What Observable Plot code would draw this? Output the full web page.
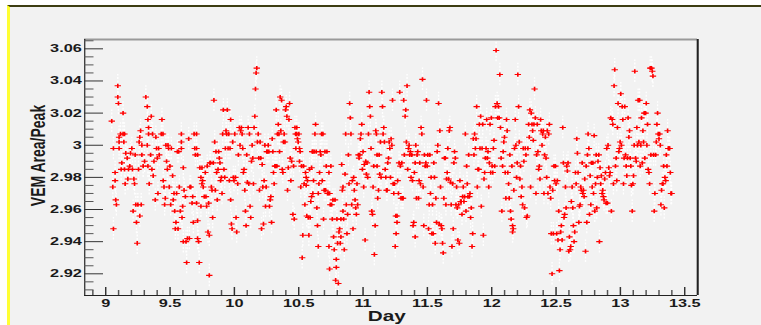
<!DOCTYPE html>
<html>
<head>
<meta charset="utf-8">
<script src="https://cdn.jsdelivr.net/npm/d3@7"></script>
<script src="https://cdn.jsdelivr.net/npm/@observablehq/plot@0.6"></script>
<style>
  html, body { margin: 0; padding: 0; background: #ffffff; width: 761px; height: 325px; overflow: hidden; }
  #pad { position: absolute; left: 7px; top: 5px; width: 754px; height: 320px; background: #f2f2f2;
         border-top: 2px solid #3d3d12; border-left: 3px solid #ffff33; box-sizing: border-box; }
  #chart { position: absolute; left: 0; top: 0; transform-origin: 0 0; }
</style>
</head>
<body>
<div id="pad"></div>
<div id="chart"></div>
<script>
// ---- data: [day, VEM Area/Peak] ----
const seg1 = [[9.047,3.015],[9.055,2.974],[9.060,2.998],[9.060,2.948],[9.073,2.983],[9.073,2.978],[9.078,2.966],[9.083,2.963],[9.094,3.037],[9.094,3.030],[9.099,3.026],[9.104,3.002],[9.104,3.005],[9.104,2.998],[9.115,3.007],[9.120,2.985],[9.125,2.989],[9.135,3.020],[9.135,3.007],[9.141,3.002],[9.146,3.007],[9.146,2.985],[9.151,2.976],[9.156,2.995],[9.167,2.992],[9.172,2.979],[9.177,2.985],[9.187,2.987],[9.193,2.995],[9.203,2.998],[9.208,2.985],[9.213,2.959],[9.219,2.979],[9.224,2.976],[9.229,2.994],[9.234,2.963],[9.239,2.952],[9.245,2.939],[9.250,2.963],[9.255,2.985],[9.260,3.002],[9.265,2.956],[9.265,3.005],[9.271,3.009],[9.276,2.963],[9.281,3.000],[9.281,2.994],[9.291,2.987],[9.302,2.990],[9.312,3.030],[9.323,3.024],[9.328,3.016],[9.333,3.011],[9.323,3.000],[9.328,2.987],[9.333,3.007],[9.338,2.976],[9.349,2.994],[9.354,3.018],[9.359,2.985],[9.364,3.007],[9.369,2.981],[9.375,2.990],[9.385,2.966],[9.390,3.005],[9.395,2.998],[9.401,2.992],[9.406,2.970],[9.411,2.998],[9.416,2.994],[9.432,3.007],[9.437,3.016],[9.445,3.007],[9.447,2.978],[9.453,2.974],[9.458,2.963],[9.463,2.967],[9.468,3.000],[9.473,2.990],[9.479,2.985],[9.484,3.000],[9.489,2.998],[9.494,2.974],[9.499,2.987],[9.505,2.963],[9.510,2.998],[9.520,2.981],[9.525,2.966],[9.531,2.970],[9.536,2.959],[9.541,2.948],[9.546,2.952],[9.551,2.970],[9.557,2.996],[9.562,2.948],[9.567,2.996],[9.572,2.974],[9.580,2.959],[9.588,2.998],[9.588,3.002],[9.588,3.007],[9.593,2.955],[9.598,2.962],[9.603,2.986],[9.603,2.940],[9.609,2.972],[9.619,2.968],[9.624,2.940],[9.629,2.927],[9.635,2.942],[9.645,3.004],[9.650,2.942],[9.655,2.974],[9.661,2.974],[9.671,2.964],[9.676,2.968],[9.681,2.952],[9.687,3.007],[9.692,2.998],[9.697,2.994]];
const seg2 = [[9.706,3.007],[9.706,2.998],[9.714,2.994],[9.706,2.964],[9.714,2.953],[9.714,2.942],[9.722,2.940],[9.727,2.927],[9.732,2.986],[9.740,2.962],[9.740,2.980],[9.748,2.986],[9.748,2.976],[9.753,2.978],[9.758,2.974],[9.766,2.968],[9.774,2.983],[9.779,2.968],[9.784,2.962],[9.789,2.987],[9.795,2.946],[9.800,2.964],[9.805,2.944],[9.805,2.919],[9.810,2.989],[9.815,2.989],[9.821,2.974],[9.826,2.972],[9.831,2.955],[9.836,2.989],[9.841,3.028],[9.847,3.002],[9.852,2.972],[9.857,2.996],[9.862,2.983],[9.867,2.966],[9.873,2.985],[9.878,2.996],[9.883,2.992],[9.888,2.989],[9.893,2.978],[9.899,2.980],[9.904,2.970],[9.909,3.007],[9.914,3.022],[9.919,2.985],[9.925,2.980],[9.930,2.998],[9.935,3.009],[9.940,3.007],[9.945,3.022],[9.951,2.998],[9.956,3.007],[9.961,2.978],[9.966,2.998],[9.971,3.016],[9.971,2.966],[9.977,2.951],[9.982,2.948],[9.987,3.002],[9.992,2.980],[9.997,2.978],[10.003,3.007],[10.008,2.980],[10.013,2.955],[10.018,2.946],[10.026,2.976],[10.031,2.994],[10.039,3.011],[10.044,3.000],[10.049,3.009],[10.055,3.011],[10.060,3.007],[10.065,2.998],[10.070,2.983],[10.075,2.985],[10.081,2.972],[10.086,2.959],[10.091,2.950],[10.096,2.994],[10.101,2.977],[10.107,3.011],[10.112,2.976],[10.117,3.007],[10.122,2.962],[10.127,2.955],[10.133,2.990],[10.138,3.000],[10.143,2.992],[10.148,2.976],[10.153,3.011],[10.159,3.018],[10.164,3.035],[10.169,3.045],[10.174,3.048],[10.179,3.002],[10.185,3.007],[10.190,2.992],[10.195,2.972],[10.200,3.002],[10.205,2.992],[10.211,2.948],[10.216,2.988],[10.221,2.974],[10.226,2.951],[10.231,2.978],[10.237,3.000],[10.242,2.962],[10.247,2.974],[10.252,2.996],[10.257,2.996],[10.263,3.000],[10.268,2.996],[10.273,2.962],[10.278,2.966],[10.283,2.968],[10.289,2.952],[10.294,3.004],[10.299,2.996],[10.304,2.983],[10.309,2.976],[10.315,2.987],[10.320,2.987],[10.325,3.022],[10.330,2.987],[10.335,3.007],[10.341,3.013],[10.346,3.007],[10.351,2.996],[10.356,3.030],[10.361,3.009],[10.367,3.028],[10.372,2.985],[10.377,2.983],[10.382,3.002],[10.387,3.007],[10.393,3.002],[10.398,3.022],[10.403,3.024],[10.408,3.018],[10.413,2.972],[10.419,2.986],[10.424,3.016],[10.429,3.026],[10.434,2.992],[10.439,2.978],[10.445,2.990],[10.455,2.957],[10.460,2.987],[10.465,2.954],[10.471,3.011],[10.476,3.007],[10.478,2.998]];
const seg3 = [[10.485,3.011],[10.485,3.007],[10.490,3.004],[10.496,3.002],[10.501,3.007],[10.506,2.998],[10.511,2.996],[10.506,2.990],[10.516,2.974],[10.522,2.987],[10.527,2.930],[10.532,2.944],[10.537,2.987],[10.542,2.976],[10.548,2.963],[10.553,2.983],[10.558,2.980],[10.558,2.975],[10.563,2.956],[10.568,2.978],[10.574,2.955],[10.579,2.944],[10.584,2.985],[10.589,2.955],[10.594,2.965],[10.600,2.968],[10.600,2.986],[10.605,2.996],[10.610,2.970],[10.610,2.996],[10.615,2.978],[10.620,2.996],[10.626,3.007],[10.631,3.013],[10.636,2.996],[10.641,2.961],[10.646,2.950],[10.652,2.937],[10.652,2.970],[10.657,2.976],[10.662,2.983],[10.667,2.996],[10.672,2.994],[10.678,3.007],[10.683,2.978],[10.688,3.007],[10.693,2.954],[10.698,2.972],[10.704,2.996],[10.709,2.972],[10.714,2.987],[10.719,2.996],[10.724,2.970],[10.730,2.970],[10.735,2.983],[10.735,2.937],[10.740,2.970],[10.740,2.923],[10.745,2.963],[10.750,2.987],[10.756,2.963],[10.761,2.954],[10.766,2.966],[10.771,2.943],[10.776,2.935],[10.782,2.966],[10.787,2.916],[10.792,2.924],[10.792,2.929],[10.797,2.954],[10.802,2.939],[10.808,2.914],[10.813,2.946],[10.818,2.948],[10.823,2.939],[10.828,2.943],[10.828,2.954],[10.834,2.988],[10.839,2.972],[10.844,2.974],[10.844,2.959],[10.849,2.954],[10.854,2.935],[10.860,2.982],[10.865,3.007],[10.870,2.963],[10.875,2.945],[10.880,2.957],[10.886,2.994],[10.891,2.976],[10.896,3.026],[10.901,3.017],[10.906,3.007],[10.912,2.963],[10.917,2.978],[10.922,2.948],[10.927,2.980],[10.932,2.972],[10.938,2.966],[10.943,2.961],[10.948,2.957],[10.953,2.976],[10.958,2.963],[10.964,2.994],[10.969,2.992],[10.974,2.994],[10.979,3.004],[10.984,3.007],[10.990,3.013],[10.995,2.985],[11.000,2.996],[11.005,2.974],[11.010,2.988],[11.016,2.941],[11.021,2.990],[11.026,2.982],[11.031,2.989],[11.036,2.980],[11.042,3.007],[11.047,3.033],[11.052,3.024],[11.057,3.018],[11.062,2.998],[11.068,2.959],[11.073,2.957],[11.078,2.974],[11.083,2.987],[11.088,2.932],[11.094,2.950],[11.099,3.009],[11.104,3.007],[11.109,2.994],[11.109,2.987],[11.114,2.967],[11.120,2.972],[11.125,2.994],[11.130,2.982],[11.135,3.002],[11.140,2.980],[11.146,3.033],[11.151,3.024],[11.156,3.007],[11.161,3.011],[11.166,3.002],[11.172,2.985],[11.177,2.980],[11.182,2.972],[11.187,2.972],[11.192,2.989],[11.198,2.992],[11.203,3.002],[11.208,2.998],[11.213,2.980],[11.218,3.004],[11.224,3.000],[11.229,3.028],[11.234,2.976],[11.239,2.970],[11.244,2.976],[11.250,2.937],[11.255,2.956],[11.257,2.945]];
const seg4 = [[11.264,2.952],[11.264,2.956],[11.269,2.978],[11.275,2.970],[11.280,2.989],[11.285,3.033],[11.290,2.987],[11.295,2.967],[11.301,2.989],[11.306,2.967],[11.311,2.967],[11.316,3.028],[11.321,2.994],[11.327,3.018],[11.332,3.022],[11.337,3.002],[11.342,3.037],[11.347,2.985],[11.353,2.998],[11.358,3.000],[11.363,2.994],[11.368,2.996],[11.373,2.980],[11.379,2.994],[11.384,2.978],[11.389,2.950],[11.394,2.952],[11.399,2.983],[11.405,2.989],[11.405,2.943],[11.410,3.000],[11.415,2.967],[11.420,2.994],[11.425,2.996],[11.431,2.967],[11.436,2.978],[11.441,2.989],[11.446,2.976],[11.451,3.011],[11.457,3.007],[11.462,3.041],[11.467,2.974],[11.472,2.950],[11.477,2.994],[11.483,2.987],[11.488,2.989],[11.493,3.028],[11.498,2.987],[11.503,2.994],[11.509,2.948],[11.514,2.963],[11.519,2.994],[11.524,2.970],[11.529,2.980],[11.535,2.945],[11.540,2.963],[11.545,2.945],[11.550,2.989],[11.555,2.980],[11.561,2.939],[11.566,2.967],[11.571,2.952],[11.576,2.996],[11.581,3.000],[11.587,3.026],[11.592,2.951],[11.597,3.009],[11.602,2.974],[11.607,2.950],[11.613,2.948],[11.618,2.939],[11.623,2.933],[11.628,2.967],[11.633,2.992],[11.639,2.992],[11.644,2.963],[11.649,2.979],[11.654,2.983],[11.659,2.998],[11.665,2.979],[11.670,3.009],[11.675,3.011],[11.680,2.977],[11.685,2.963],[11.691,2.937],[11.696,2.976],[11.701,2.948],[11.706,2.989],[11.711,2.996],[11.717,2.992],[11.722,2.963],[11.727,2.974],[11.732,2.961],[11.737,2.941],[11.743,2.963],[11.748,2.939],[11.753,2.978],[11.758,2.965],[11.763,2.965],[11.769,2.957],[11.774,2.968],[11.779,2.974],[11.784,2.965],[11.789,2.968],[11.795,3.007],[11.800,2.959],[11.805,2.987],[11.810,2.976],[11.815,2.968],[11.821,2.994],[11.826,2.968],[11.831,2.970],[11.836,2.955],[11.841,2.961],[11.847,2.937],[11.852,2.945],[11.857,3.004],[11.862,2.994],[11.867,3.007],[11.873,2.998],[11.878,3.004],[11.883,3.024],[11.888,2.974],[11.893,2.985],[11.899,2.985],[11.904,3.013],[11.909,2.998],[11.914,3.018],[11.919,2.962],[11.925,2.998],[11.930,3.013],[11.935,2.944],[11.940,2.979],[11.945,2.983],[11.951,2.992],[11.956,2.998],[11.961,3.016],[11.966,2.992],[11.971,2.996],[11.977,2.974],[11.982,2.989],[11.987,3.013],[11.992,2.983],[11.997,3.017],[12.003,2.987],[12.008,2.983],[12.013,2.998],[12.018,3.003],[12.023,2.987],[12.029,3.024],[12.034,3.059]];
const seg5 = [[12.042,3.026],[12.047,3.017],[12.053,3.024],[12.058,3.017],[12.063,3.044],[12.068,3.011],[12.073,2.992],[12.079,2.959],[12.084,2.987],[12.089,2.996],[12.094,3.002],[12.099,3.005],[12.105,2.983],[12.110,2.967],[12.115,3.016],[12.120,3.009],[12.125,2.983],[12.131,2.976],[12.136,2.967],[12.141,2.994],[12.146,2.959],[12.151,2.954],[12.157,2.987],[12.162,2.946],[12.162,2.950],[12.167,2.948],[12.172,2.972],[12.177,2.998],[12.183,3.016],[12.188,3.000],[12.193,2.980],[12.198,2.989],[12.203,3.044],[12.209,3.024],[12.214,3.002],[12.219,2.979],[12.224,2.987],[12.229,2.968],[12.235,2.974],[12.240,2.963],[12.245,2.998],[12.250,2.990],[12.255,2.961],[12.261,2.998],[12.266,2.994],[12.271,2.955],[12.276,2.956],[12.281,2.998],[12.287,3.013],[12.292,3.005],[12.297,3.022],[12.302,2.974],[12.307,3.020],[12.313,3.013],[12.318,3.009],[12.323,3.003],[12.328,3.013],[12.333,3.035],[12.339,3.017],[12.344,2.970],[12.349,2.994],[12.354,3.013],[12.359,2.996],[12.365,2.985],[12.370,2.987],[12.375,2.979],[12.380,3.016],[12.385,3.009],[12.391,3.000],[12.396,3.007],[12.401,3.009],[12.406,2.970],[12.411,2.994],[12.417,3.005],[12.422,2.992],[12.427,2.980],[12.432,3.009],[12.437,2.970],[12.443,3.007],[12.448,3.013],[12.453,2.974],[12.458,2.967],[12.463,2.945],[12.469,2.920],[12.474,2.972],[12.479,2.945],[12.484,2.987],[12.489,2.978],[12.495,2.987],[12.500,2.976],[12.505,2.945],[12.510,2.978],[12.515,2.941],[12.521,2.959],[12.526,2.922],[12.531,2.935],[12.536,2.946],[12.541,2.950],[12.547,2.941],[12.552,3.011],[12.557,2.989],[12.562,2.955],[12.567,2.957],[12.573,2.974],[12.578,2.961],[12.583,2.987],[12.588,2.984],[12.593,2.989],[12.599,2.934],[12.604,2.943],[12.609,2.935],[12.614,2.937],[12.619,2.965],[12.625,2.974],[12.630,2.961],[12.635,2.950],[12.640,2.940],[12.645,2.946],[12.651,2.983],[12.656,2.976],[12.661,3.004],[12.666,2.995],[12.671,2.983],[12.677,2.952],[12.682,2.962],[12.687,2.963],[12.692,2.974],[12.697,2.972],[12.703,2.989],[12.708,2.970],[12.713,2.972],[12.718,2.968],[12.723,2.979],[12.729,2.934],[12.734,2.987],[12.739,2.952],[12.744,2.994],[12.749,3.007],[12.755,2.998],[12.760,2.957],[12.765,2.981],[12.770,2.963],[12.775,2.989],[12.781,2.974],[12.786,2.989],[12.791,2.970],[12.796,3.006],[12.801,2.959],[12.807,2.976],[12.812,2.994]];
const seg6 = [[12.816,2.961],[12.821,2.980],[12.826,2.990],[12.832,2.994],[12.837,2.940],[12.842,2.986],[12.847,2.976],[12.852,2.981],[12.858,2.970],[12.863,2.972],[12.868,2.968],[12.873,2.966],[12.878,2.979],[12.884,2.983],[12.889,2.964],[12.894,2.998],[12.899,2.964],[12.904,3.000],[12.910,2.986],[12.915,2.981],[12.920,2.983],[12.925,3.017],[12.930,2.959],[12.936,3.016],[12.941,3.013],[12.946,2.976],[12.951,3.037],[12.956,3.047],[12.962,2.987],[12.967,2.992],[12.972,2.978],[12.977,3.011],[12.982,3.026],[12.988,2.996],[12.993,2.998],[12.998,3.002],[13.003,3.032],[13.008,3.000],[13.014,3.024],[13.019,3.016],[13.024,2.976],[13.029,2.992],[13.034,3.024],[13.040,2.994],[13.045,2.987],[13.050,2.981],[13.055,2.992],[13.060,3.017],[13.066,3.005],[13.071,3.009],[13.076,2.992],[13.081,2.987],[13.086,2.975],[13.092,2.959],[13.097,2.976],[13.102,2.981],[13.107,3.000],[13.112,3.046],[13.118,2.992],[13.123,2.990],[13.128,3.011],[13.133,3.000],[13.138,3.028],[13.144,3.002],[13.149,3.028],[13.154,2.987],[13.159,3.000],[13.164,3.017],[13.170,2.989],[13.175,3.009],[13.180,3.002],[13.185,3.020],[13.190,2.992],[13.196,3.020],[13.201,3.026],[13.206,3.000],[13.211,3.013],[13.216,2.985],[13.222,2.983],[13.227,2.976],[13.232,3.048],[13.237,2.994],[13.242,3.048],[13.248,3.046],[13.253,3.043],[13.258,2.994],[13.263,2.959],[13.268,2.970],[13.274,2.994],[13.279,3.002],[13.284,3.013],[13.289,3.020],[13.294,3.007],[13.300,3.004],[13.305,3.007],[13.310,3.000],[13.315,2.963],[13.320,2.972],[13.326,2.976],[13.331,2.976],[13.336,2.987],[13.341,2.961],[13.346,2.980],[13.352,2.978],[13.357,2.994],[13.362,2.987],[13.367,3.009],[13.372,2.998],[13.378,2.998],[13.383,2.998],[13.388,2.983],[13.393,2.970],[13.398,2.970]];
const errY = 0.007;   // half-length of the (white, dashed) error bars

const xTicks = [9, 9.5, 10, 10.5, 11, 11.5, 12, 12.5, 13, 13.5];
const xTickLabels = ["9", "9.5", "10", "10.5", "11", "11.5", "12", "12.5", "13", "13.5"];
const yTicks = [2.92, 2.94, 2.96, 2.98, 3.00, 3.02, 3.04, 3.06];
const yTickLabels = ["2.92", "2.94", "2.96", "2.98", "3", "3.02", "3.04", "3.06"];
const xLabel = "Day";
const yLabel = "VEM Area/Peak";
const xDomain = [8.837, 13.601];
const yDomain = [2.9065, 3.0658];

// ---- layout (picture is horizontally stretched: draw narrow, stretch by S) ----
const S = 1.4805;
const W = 514, H = 325;
const mL = 84 / S, mR = 64 / S, mT = 39, mB = 30;
const innerW = W - mL - mR, innerH = H - mT - mB;
const font = "'Liberation Sans', Arial, Helvetica, sans-serif";

const points = [...seg1, ...seg2, ...seg3, ...seg4, ...seg5, ...seg6];
const xMinor = d3.range(89, 136).filter(i => i % 5 !== 0).map(i => i / 10);
const yMinor = d3.range(582, 614).filter(i => i % 4 !== 0).map(i => i / 200);

const chart = Plot.plot({
  width: W, height: H,
  marginLeft: mL, marginRight: mR, marginTop: mT, marginBottom: mB,
  style: {background: "transparent", fontFamily: font, overflow: "visible"},
  x: {domain: xDomain},
  y: {domain: yDomain},
  marks: [
    // error bars
    Plot.ruleX(points, {x: d => d[0], y1: d => d[1] - errY, y2: d => d[1] + errY,
      stroke: "#ffffff", strokeWidth: 0.9, strokeDasharray: "2,1.5", clip: true}),
    // markers
    Plot.dot(points, {x: d => d[0], y: d => d[1], symbol: "plus", r: 1.5,
      fill: "#ff0000", stroke: "#ff0000", strokeWidth: 1.1}),
    // frame
    Plot.ruleY([yDomain[1]], {stroke: "#9a9a9a", strokeWidth: 2}),
    Plot.ruleX([xDomain[1]], {stroke: "#222222", strokeWidth: 1.4}),
    Plot.ruleX([xDomain[0]], {stroke: "#222222", strokeWidth: 0.8}),
    Plot.ruleY([yDomain[0]], {stroke: "#222222", strokeWidth: 1.2}),
    // inward ticks
    Plot.tickY(yTicks, {y: d => d, insetRight: innerW - 19 / S, stroke: "#333333", strokeWidth: 1}),
    Plot.tickY(yMinor, {y: d => d, insetRight: innerW - 9.5 / S, stroke: "#555555", strokeWidth: 1}),
    Plot.tickX(xTicks, {x: d => d, insetTop: innerH - 8, stroke: "#333333", strokeWidth: 1}),
    Plot.tickX(xMinor, {x: d => d, insetTop: innerH - 5, stroke: "#555555", strokeWidth: 1}),
    // tick labels
    Plot.axisY({ticks: yTicks, tickSize: 0, tickPadding: 2, label: null,
      tickFormat: d => yTickLabels[yTicks.indexOf(d)],
      fontSize: 11, fontWeight: "bold", fill: "#1a1a1a"}),
    Plot.axisX({ticks: xTicks, tickSize: 0, tickPadding: 4, label: null,
      tickFormat: d => xTickLabels[xTicks.indexOf(d)],
      fontSize: 11, fontWeight: "bold", fill: "#1a1a1a"}),
    // axis titles
    Plot.text([yLabel], {text: d => d, frameAnchor: "left", textAnchor: "middle", lineAnchor: "middle",
      rotate: -90, dx: 38 / S - mL, dy: -12,
      fontSize: 14, fontWeight: "bold", fill: "#1a1a1a"}),
    Plot.text([xLabel], {text: d => d, frameAnchor: "bottom", textAnchor: "middle", lineAnchor: "bottom",
      dx: -3, dy: 25,
      fontSize: 14, fontWeight: "bold", fill: "#1a1a1a"})
  ]
});
chart.style.transform = `scaleX(${S})`;
chart.style.transformOrigin = "0 0";
document.getElementById("chart").appendChild(chart);
</script>
</body>
</html>
